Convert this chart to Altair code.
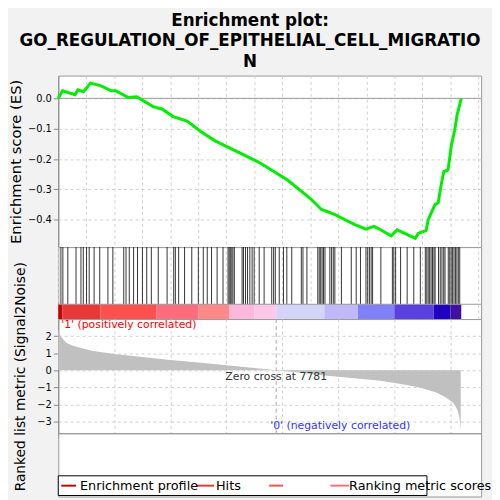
import altair as alt
import pandas as pd

# running enrichment score
es_rank = [0, 150, 600, 700, 900, 1150, 1500, 1900, 2050, 2500, 2800, 3400, 3700, 4100,
           4600, 5100, 5600, 6150, 7150, 8200, 9000, 9397, 9866, 10219, 10571, 10983,
           11276, 11571, 11888, 12100, 12745, 12862, 13133, 13214, 13450, 13566, 13684,
           13767, 13918, 14038, 14155, 14236, 14390]
es_val = [0.0, 0.025, 0.012, 0.028, 0.022, 0.05, 0.042, 0.025, 0.025, 0.003, 0.005, -0.028,
          -0.035, -0.06, -0.075, -0.11, -0.14, -0.165, -0.21, -0.27, -0.33, -0.366, -0.382,
          -0.399, -0.415, -0.431, -0.422, -0.436, -0.453, -0.433, -0.461, -0.444, -0.436,
          -0.399, -0.350, -0.344, -0.279, -0.241, -0.236, -0.154, -0.105, -0.057, 0.0]

# gene set hits
hits = [94, 164, 341, 634, 810, 893, 1010, 1104, 1280, 1480, 1773, 1949, 2337, 2419, 2536,
        2689, 2829, 3005, 3159, 3323, 3570, 3886, 4122, 4181, 4298, 4509, 4767, 5002, 5178,
        5320, 5472, 5672, 5883, 6062, 6103, 6144, 6195, 6236, 6287, 6564, 6615, 6687, 6758,
        6840, 6922, 6994, 7175, 7350, 7621, 7690, 7750, 7891, 8042, 8161, 8337, 8678, 8737,
        8878, 9267, 9318, 9370, 9421, 9472, 9523, 9697, 9759, 9820, 9876, 10110, 10462,
        10638, 10791, 10988, 11049, 11110, 11172, 11223, 11519, 11930, 11981, 12047, 12223,
        12458, 12694, 12928, 13107, 13158, 13210, 13261, 13312, 13363, 13414, 13455, 13578,
        13640, 13701, 13763, 13809, 13926, 13978, 14029, 14080, 14131, 14182, 14234, 14285,
        14336]

# ranked list metric
m_rank = [0, 50, 150, 300, 500, 800, 1200, 2000, 3000, 4000, 5000, 6000, 7000, 7781, 8500,
          9500, 10500, 11500, 12000, 12500, 13000, 13500, 13800, 14100, 14250, 14330, 14370]
m_val = [2.4, 2.1, 1.85, 1.6, 1.45, 1.3, 1.15, 0.95, 0.78, 0.6, 0.45, 0.3, 0.13, 0.0, -0.12,
         -0.3, -0.45, -0.62, -0.75, -0.88, -1.05, -1.3, -1.55, -1.9, -2.3, -2.8, -3.5]

# colour bar segments
seg_start = [0, 150, 1500, 3500, 5000, 6100, 7000, 7781, 9500, 10700, 12000, 13400, 14000]
seg_end = [150, 1500, 3500, 5000, 6100, 7000, 7781, 9500, 10700, 12000, 13400, 14000, 14390]
seg_colors = ["#cc0000", "#e83838", "#ff5050", "#ff6c7c", "#ff8888", "#ffb8dc", "#ffc8e8",
              "#d4d4f8", "#c0b8f8", "#8080f8", "#5a40e0", "#2000c0", "#4010a0"]

zero_cross = 7781
W = 429
xdom = [0, 15100]
grid = dict(gridDash=[3, 3], gridColor="#d0d0d0")

es_df = pd.DataFrame({"rank": es_rank, "es": es_val})
hit_df = pd.DataFrame({"rank": hits})
m_df = pd.DataFrame({"rank": m_rank, "metric": m_val})
seg_df = pd.DataFrame({"start": seg_start, "end": seg_end, "seg": list(range(len(seg_start)))})

xs = alt.Scale(domain=xdom, nice=False, zero=False)
hidden_x = alt.Axis(labels=False, ticks=False, title=None, domain=False, **grid)

es_line = alt.Chart(es_df).mark_line(color="#00ee00", strokeWidth=3).encode(
    x=alt.X("rank:Q", scale=xs, axis=hidden_x),
    y=alt.Y("es:Q", scale=alt.Scale(domain=[-0.49, 0.075], nice=False),
            axis=alt.Axis(title="Enrichment score (ES)", values=[0.0, -0.1, -0.2, -0.3, -0.4],
                          format=".1f", titleFontSize=15, titleFontWeight="normal", **grid)))
zero = alt.Chart(pd.DataFrame({"z": [0]})).mark_rule(color="#999999").encode(y="z:Q")
top = alt.layer(zero, es_line).properties(width=W, height=174)

hit_rules = alt.Chart(hit_df).mark_rule(color="black", opacity=0.8).encode(
    x=alt.X("rank:Q", scale=xs, axis=hidden_x),
    y=alt.value(0), y2=alt.value(58))
bar = alt.Chart(seg_df).mark_rect().encode(
    x=alt.X("start:Q", scale=xs), x2="end:Q",
    y=alt.value(58), y2=alt.value(73),
    color=alt.Color("seg:O", scale=alt.Scale(domain=list(range(len(seg_colors))), range=seg_colors), legend=None))
sep = alt.Chart(pd.DataFrame({"r": [0]})).mark_rule(color="#999999").encode(
    x=alt.value(0), x2=alt.value(W), y=alt.value(58))
mid = alt.layer(hit_rules, bar, sep).properties(width=W, height=73)

area = alt.Chart(m_df).mark_area(color="#c0c0c0").encode(
    x=alt.X("rank:Q", scale=xs, axis=alt.Axis(title="Rank in Ordered Dataset", titleFontSize=15,
                                             titleFontWeight="normal", format=",d",
                                             values=[0, 2000, 4000, 6000, 8000, 10000, 12000, 14000], **grid)),
    y=alt.Y("metric:Q", scale=alt.Scale(domain=[-3.7, 3.0], nice=False),
            axis=alt.Axis(title="Ranked list metric (Signal2Noise)", values=[2, 1, 0, -1, -2, -3],
                          titleFontSize=14, titleFontWeight="normal", titlePadding=10, **grid)),
    y2=alt.datum(0))
zline = alt.Chart(pd.DataFrame({"r": [zero_cross]})).mark_rule(color="#aaaaaa", strokeDash=[4, 3]).encode(
    x=alt.X("r:Q", scale=xs))
lbl = pd.DataFrame({"r": [zero_cross], "t": ["Zero cross at " + str(zero_cross)]})
ztext = alt.Chart(lbl).mark_text(fontSize=11, color="#333333").encode(
    x=alt.X("r:Q", scale=xs), y=alt.value(59), text="t:N")
pos = alt.Chart(pd.DataFrame({"t": ["'1' (positively correlated)"]})).mark_text(
    fontSize=11, color="red", align="left").encode(x=alt.value(3), y=alt.value(6), text="t:N")
neg = alt.Chart(pd.DataFrame({"t": ["'0' (negatively correlated)"]})).mark_text(
    fontSize=11, color="#3333ff", align="left").encode(x=alt.value(215), y=alt.value(109), text="t:N")
bottom = alt.layer(area, zline, ztext, pos, neg).properties(width=W, height=116)

# legend box
lg_box = alt.Chart(pd.DataFrame({"a": [0]})).mark_rect(fill="white", stroke="black").encode(
    x=alt.value(0), x2=alt.value(374), y=alt.value(43), y2=alt.value(63))
lg_lines = alt.Chart(pd.DataFrame({"x1": [3, 140, 214, 276], "x2": [18, 158, 228, 295],
                                   "k": ["a", "b", "c", "d"]})).mark_rule(strokeWidth=2).encode(
    x=alt.X("x1:Q", scale=None), x2="x2:Q", y=alt.value(53),
    color=alt.Color("k:N", scale=alt.Scale(domain=["a", "b", "c", "d"],
                                           range=["#00ee00", "black", "#eeeeee", "#c0c0c0"]), legend=None))
lg_text = alt.Chart(pd.DataFrame({"x": [22, 160, 295], "t": ["Enrichment profile", "Hits", "Ranking metric scores"]})).mark_text(
    fontSize=13, align="left", baseline="middle").encode(x=alt.X("x:Q", scale=None), y=alt.value(53), text="t:N")
legend = alt.layer(lg_box, lg_lines, lg_text).properties(width=W, height=64)

chart = alt.vconcat(top, mid, bottom, legend, spacing=0, bounds="flush").properties(
    title=alt.TitleParams(["Enrichment plot:", "GO_REGULATION_OF_EPITHELIAL_CELL_MIGRATIO", "N"],
                          fontSize=17, fontWeight="bold", anchor="middle", lineHeight=21, offset=4),
    background="#f2f2f2",
    padding={"left": 0, "top": 0, "right": 0, "bottom": 0},
).configure(font="DejaVu Sans").configure_view(stroke="#999999", fill="white").configure_concat(spacing=0)

chart.save("out.html", embed_options={"renderer": "svg", "actions": False})
